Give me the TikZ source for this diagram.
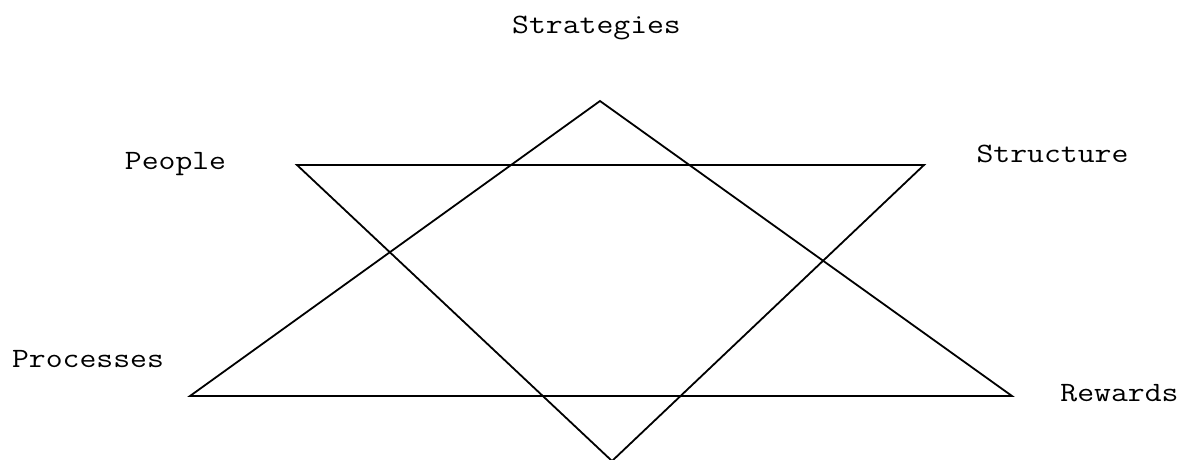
\documentclass[tikz,border=0pt]{standalone}
\newcommand\widetext[1]{\scalebox{1.17}[1]{#1}}
\begin{document}
\begin{tikzpicture}[x=1pt,y=-1pt,
  lbl/.style={font=\ttfamily\fontsize{28}{30}\selectfont, anchor=base, inner sep=0pt},
  edge/.style={line width=1.8pt, line join=miter}]
\useasboundingbox (0,0) rectangle (1188,459);
\clip (0,0) rectangle (1188,459);
% vertices
\coordinate (A) at (600,101);
\coordinate (BL) at (190,396);
\coordinate (BR) at (1012,396);
\coordinate (TL) at (297,165);
\coordinate (TR) at (924,165);
\coordinate (B) at (612,461);
% triangles
\draw[edge] (A) -- (BL) -- (BR) -- cycle;
\draw[edge] (TL) -- (TR) -- (B) -- cycle;
% labels
\node[lbl] (strategies) at (596.5,33) {\widetext{Strategies}};
\node[lbl] (people) at (175.5,169) {\widetext{People}};
\node[lbl] (structure) at (1052.5,162) {\widetext{Structure}};
\node[lbl] (processes) at (88,367) {\widetext{Processes}};
\node[lbl] (rewards) at (1119.5,401) {\widetext{Rewards}};
\end{tikzpicture}
\end{document}
